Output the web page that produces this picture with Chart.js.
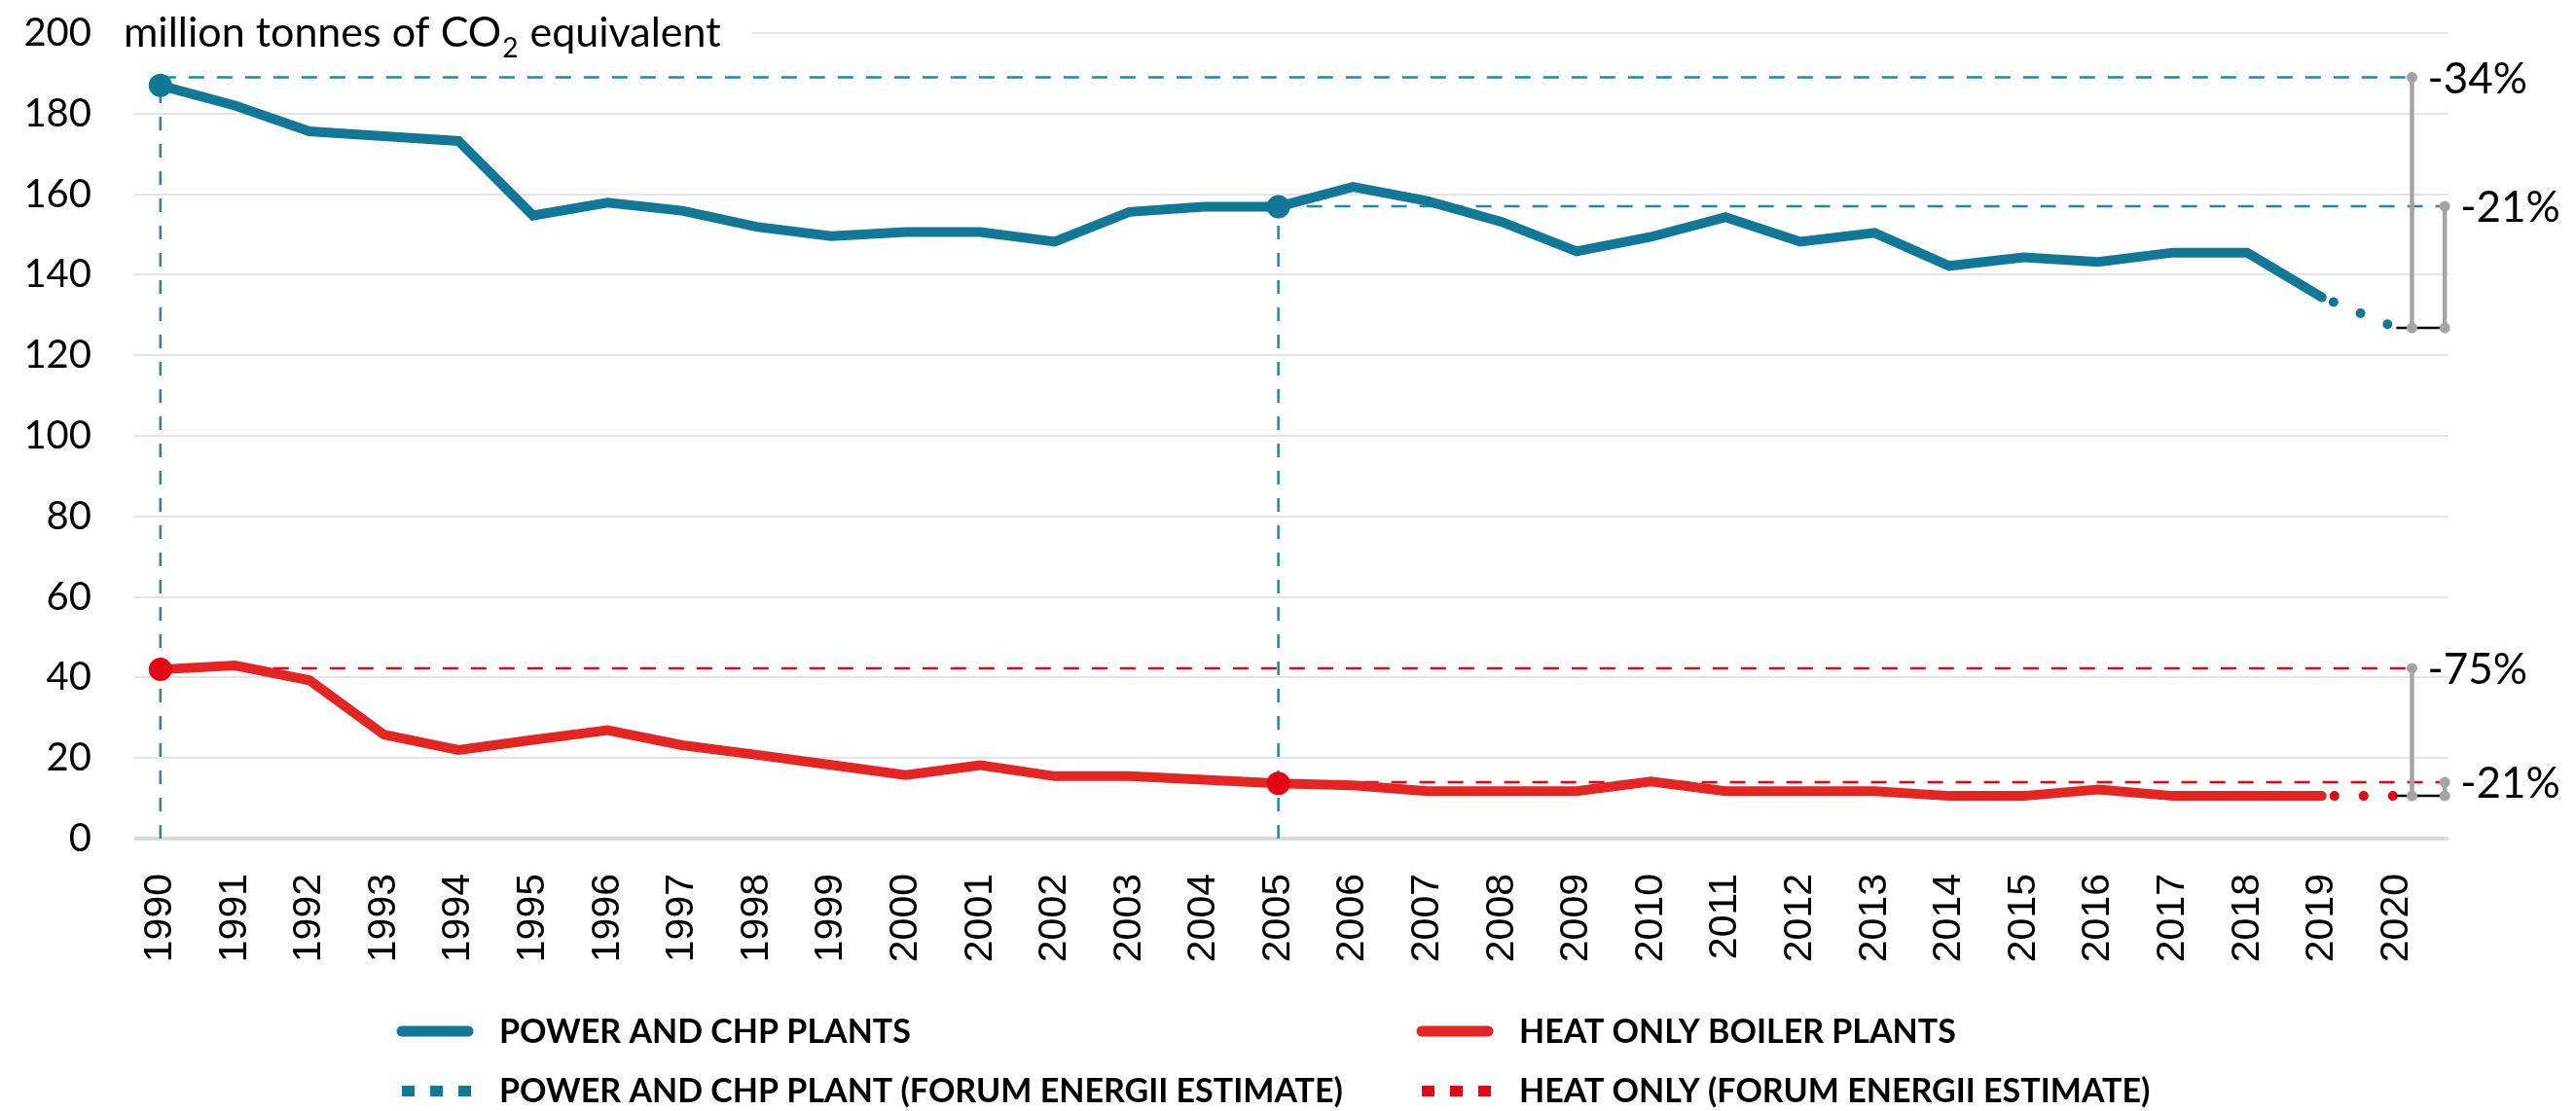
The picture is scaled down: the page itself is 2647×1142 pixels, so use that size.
<!DOCTYPE html>
<html>
<head>
<meta charset="utf-8">
<script src="https://cdn.jsdelivr.net/npm/chart.js@4.4.1/dist/chart.umd.min.js"></script>
<style>
html,body{margin:0;padding:0;background:#fff}
#wrap{width:2647px;height:1142px;position:relative}
</style>
</head>
<body>
<div id="wrap"><canvas id="c"></canvas></div>
<script>
// ---------- DATA ----------
const years = [1990,1991,1992,1993,1994,1995,1996,1997,1998,1999,2000,2001,2002,2003,2004,2005,2006,2007,2008,2009,2010,2011,2012,2013,2014,2015,2016,2017,2018,2019,2020];
// Power and CHP plants, 1990-2019 (million t CO2e)
const powerChp = [187.0,182.0,175.6,174.4,173.2,154.7,157.9,155.9,151.9,149.6,150.6,150.6,148.2,155.6,156.9,156.9,161.8,158.3,153.1,145.8,149.4,154.3,148.2,150.4,142.2,144.3,143.2,145.5,145.5,134.4];
// Heat only boiler plants, 1990-2019
const heatOnly = [42.0,43.0,39.3,25.8,22.0,24.5,26.9,23.2,20.8,18.3,15.8,18.2,15.5,15.5,14.6,13.7,13.2,11.8,11.8,11.8,14.2,11.8,11.8,11.8,10.6,10.6,12.2,10.6,10.6,10.6];
// Forum Energii estimates (2019 -> 2020)
const estimateYears = [2019, 2020];
const powerEstimate = [134.4, 126.8];
const heatEstimate = [10.6, 10.6];
// reference years and levels
const baseYears = [1990, 2005];
const powerBase = [189.0, 157.0];
const heatBase = [42.3, 14.0];
const powerMarkers = [187.0, 156.9];
const heatMarkers = [42.0, 13.7];
const powerChangeLabels = ['-34%', '-21%'];
const heatChangeLabels = ['-75%', '-21%'];
const legendLabels = ['POWER AND CHP PLANTS','HEAT ONLY BOILER PLANTS','POWER AND CHP PLANT (FORUM ENERGII ESTIMATE)','HEAT ONLY (FORUM ENERGII ESTIMATE)'];
const yTitle = ['million tonnes of CO', '2', ' equivalent'];

// ---------- STYLE ----------
const TEAL = '#117898', TEAL_D = '#2187A6', RED = '#E42521', RED_DOT = '#E30613', GRAY = '#A4A4A4';
const X_MIN = 1989.65, X_MAX = 2020.70;
const BR = [2020.21, 2020.65]; // bracket columns on the x scale

function pts(xs, ys){ return xs.map((x,i)=>({x:x, y:ys[i]})); }
const hist = years.slice(0, powerChp.length);

function seg(x1,y1,x2,y2){ return [{x:x1,y:y1},{x:x2,y:y2}]; }

const datasets = [
  // main series
  {label:legendLabels[0], data:pts(hist, powerChp), borderColor:TEAL, borderWidth:10, borderCapStyle:'round', order:5},
  {label:legendLabels[2], data:pts(estimateYears, powerEstimate), borderColor:TEAL, borderWidth:10, borderDash:[0,30], borderDashOffset:-13, borderCapStyle:'round', order:5},
  {label:legendLabels[1], data:pts(hist, heatOnly), borderColor:RED, borderWidth:10, borderCapStyle:'round', order:5},
  {label:legendLabels[3], data:pts(estimateYears, heatEstimate), borderColor:RED_DOT, borderWidth:10, borderDash:[0,30], borderDashOffset:-13, borderCapStyle:'round', order:5},
  // horizontal reference dashed lines
  {data:seg(baseYears[0], powerBase[0], BR[0], powerBase[0]), borderColor:TEAL_D, borderWidth:2.5, borderDash:[16,13], order:8},
  {data:seg(baseYears[1], powerBase[1], BR[1], powerBase[1]), borderColor:TEAL_D, borderWidth:2.5, borderDash:[16,13], order:8},
  {data:seg(baseYears[0], heatBase[0], BR[0], heatBase[0]), borderColor:RED_DOT, borderWidth:2.5, borderDash:[16,13], order:8},
  {data:seg(baseYears[1], heatBase[1], BR[1], heatBase[1]), borderColor:RED_DOT, borderWidth:2.5, borderDash:[16,13], order:8},
  // vertical dashed lines
  {data:seg(baseYears[0], 0, baseYears[0], powerMarkers[0]), borderColor:TEAL_D, borderWidth:2.5, borderDash:[14,14], order:8},
  {data:seg(baseYears[1], 0, baseYears[1], powerMarkers[1]), borderColor:TEAL_D, borderWidth:2.5, borderDash:[14,14], order:8},
  // markers
  {data:pts(baseYears, powerMarkers), showLine:false, pointRadius:12, pointBackgroundColor:TEAL, pointBorderWidth:0, order:1},
  {data:pts(baseYears, heatMarkers), showLine:false, pointRadius:12, pointBackgroundColor:RED_DOT, pointBorderWidth:0, order:1},
  // black baselines at 2020 level
  {data:seg(estimateYears[1], powerEstimate[1], X_MAX, powerEstimate[1]), borderColor:'#000', borderWidth:2.5, order:4},
  {data:seg(estimateYears[1], heatEstimate[1], X_MAX, heatEstimate[1]), borderColor:'#000', borderWidth:2.5, order:4},
  // grey brackets
  {data:seg(BR[0], powerBase[0], BR[0], powerEstimate[1]), borderColor:GRAY, borderWidth:4.5, pointRadius:5.5, pointBackgroundColor:GRAY, pointBorderWidth:0, order:2},
  {data:seg(BR[1], powerBase[1], BR[1], powerEstimate[1]), borderColor:GRAY, borderWidth:4.5, pointRadius:5.5, pointBackgroundColor:GRAY, pointBorderWidth:0, order:2},
  {data:seg(BR[0], heatBase[0], BR[0], heatEstimate[1]), borderColor:GRAY, borderWidth:4.5, pointRadius:5.5, pointBackgroundColor:GRAY, pointBorderWidth:0, order:2},
  {data:seg(BR[1], heatBase[1], BR[1], heatEstimate[1]), borderColor:GRAY, borderWidth:4.5, pointRadius:5.5, pointBackgroundColor:GRAY, pointBorderWidth:0, order:2}
];
datasets.forEach(d => { if (d.pointRadius === undefined) d.pointRadius = 0; d.tension = 0; d.fill = false; d.clip = false; });

const extras = {
  id: 'extras',
  afterDatasetsDraw(chart) {
    const ctx = chart.ctx, xs = chart.scales.x, ys = chart.scales.y;
    ctx.save();
    ctx.fillStyle = '#000';
    ctx.font = '44px Lato';
    ctx.textAlign = 'left';
    ctx.textBaseline = 'middle';
    [[powerChangeLabels, powerBase],[heatChangeLabels, heatBase]].forEach(([labs, lv]) => {
      labs.forEach((t, i) => {
        ctx.fillText(t, xs.getPixelForValue(BR[i]) + 16, ys.getPixelForValue(lv[i]) + 2);
      });
    });
    ctx.restore();
  },
  afterDraw(chart) {
    const ctx = chart.ctx, ys = chart.scales.y;
    ctx.save();
    // axis title
    const ty = ys.getPixelForValue(200);
    const tx = 127;
    ctx.font = '43px Lato';
    const w1 = ctx.measureText(yTitle[0]).width;
    ctx.font = '28px Lato';
    const w2 = ctx.measureText(yTitle[1]).width;
    ctx.font = '43px Lato';
    const w3 = ctx.measureText(yTitle[2]).width;
    ctx.fillStyle = '#fff';
    ctx.fillRect(tx - 12, ty - 24, w1 + w2 + w3 + 46, 48);
    ctx.fillStyle = '#000';
    ctx.textBaseline = 'middle';
    ctx.textAlign = 'left';
    ctx.fillText(yTitle[0], tx, ty);
    ctx.font = '28px Lato';
    ctx.fillText(yTitle[1], tx + w1 + 1, ty + 16);
    ctx.font = '43px Lato';
    ctx.fillText(yTitle[2], tx + w1 + w2 + 2, ty);

    // legend
    const rows = [1060, 1121];
    const cols = [[408, 486, 513], [1456, 1534, 1561]];
    const items = [
      {row:0,col:0,color:TEAL,dotted:false,text:legendLabels[0]},
      {row:0,col:1,color:RED,dotted:false,text:legendLabels[1]},
      {row:1,col:0,color:TEAL,dotted:true,text:legendLabels[2]},
      {row:1,col:1,color:RED_DOT,dotted:true,text:legendLabels[3]}
    ];
    items.forEach(it => {
      const y = rows[it.row], c = cols[it.col];
      ctx.fillStyle = it.color; ctx.strokeStyle = it.color;
      if (!it.dotted) {
        ctx.lineWidth = 11; ctx.lineCap = 'round';
        ctx.beginPath(); ctx.moveTo(c[0] + 5, y); ctx.lineTo(c[1] - 5, y); ctx.stroke();
      } else {
        for (let k = 0; k < 3; k++) ctx.fillRect(c[0] + 5 + k * 29, y - 5, 13, 11);
      }
      ctx.fillStyle = '#000';
      ctx.font = 'bold 34px Lato';
      ctx.textBaseline = 'middle';
      ctx.fillText(it.text, c[2], y + 1);
    });
    ctx.restore();
  }
};

new Chart(document.getElementById('c'), {
  type: 'line',
  data: { datasets: datasets },
  options: {
    responsive: true,
    maintainAspectRatio: false,
    animation: false,
    events: [],
    layout: { padding: { top: 34, right: 131, left: 0, bottom: 0 } },
    plugins: { legend: { display: false }, tooltip: { enabled: false } },
    scales: {
      x: {
        type: 'linear', min: X_MIN, max: X_MAX,
        afterBuildTicks: (s) => { s.ticks = years.map(v => ({ value: v })); },
        afterFit: (s) => { s.height = 280; s.paddingLeft = 0; s.paddingRight = 0; },
        grid: { display: false },
        border: { display: false },
        ticks: {
          autoSkip: false, minRotation: 90, maxRotation: 90, padding: 28,
          color: '#000', font: { family: '"Liberation Sans", Arial', size: 41 },
          callback: (v) => String(v)
        }
      },
      y: {
        min: 0, max: 200,
        afterFit: (s) => { s.width = 138; s.paddingTop = 0; s.paddingBottom = 0; },
        border: { display: false },
        grid: {
          drawTicks: false,
          color: (c) => c.tick && c.tick.value === 0 ? '#D9D9D9' : '#E4E4E4',
          lineWidth: (c) => c.tick && c.tick.value === 0 ? 4 : 2
        },
        ticks: {
          stepSize: 20, padding: 44, color: '#000',
          font: { family: 'Lato', size: 40 }
        }
      }
    }
  },
  plugins: [extras]
});
</script>
</body>
</html>
